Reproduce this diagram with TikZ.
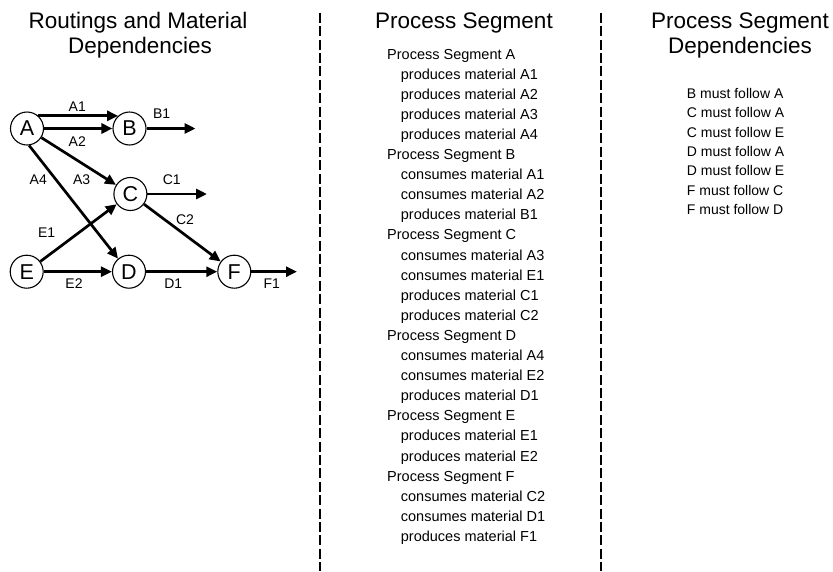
\documentclass[tikz,border=0pt]{standalone}
\usepackage{fontspec}
\setmainfont{Liberation Sans}
\usetikzlibrary{arrows.meta}
\begin{document}
\begin{tikzpicture}[x=1pt,y=-1pt,
  title/.style={font=\fontsize{22.5}{25}\selectfont, anchor=base, inner sep=0pt},
  item/.style={font=\fontsize{14.5}{17}\selectfont, anchor=base west, inner sep=0pt},
  dep/.style={font=\fontsize{14}{17}\selectfont, anchor=base west, inner sep=0pt},
  seg/.style={circle, draw, line width=1.1pt, minimum size=33pt, inner sep=0pt, font=\fontsize{21.5}{21.5}\selectfont},
  flow/.style={line width=2.7pt, -{Triangle[length=11pt,width=10pt]}},
  lbl/.style={font=\fontsize{14}{14}\selectfont, inner sep=0pt},
  divider/.style={line width=2.3pt, dash pattern=on 10pt off 3.4pt}]
\useasboundingbox (0,0) rectangle (833,571);

% dividers
\draw[divider] (320,12.7) -- (320,571);
\draw[divider] (601.3,12.7) -- (601.3,571);

% titles
\node[title] (t1a) at (138,28.3) {Routings and Material};
\node[title] (t1b) at (140,53.3) {Dependencies};
\node[title] (t2)  at (464,28.3) {Process Segment};
\node[title] (t3a) at (740,28.3) {Process Segment};
\node[title] (t3b) at (740,53.3) {Dependencies};

% graph
\node[seg] (A) at (27,128.5) {A};
\node[seg] (B) at (129.5,128.5) {B};
\node[seg] (C) at (130.4,194) {C};
\node[seg] (E) at (26.7,271.7) {E};
\node[seg] (D) at (129,271.7) {D};
\node[seg] (F) at (234.3,271.7) {F};
\coordinate (Bout) at (195.5,128.5);
\coordinate (Cout) at (207,194);
\coordinate (Fout) at (297,271.7);

\draw[flow] (A.48) -- (B.132);
\draw[flow] (A) -- (B);
\draw[flow] (A) -- (C);
\draw[flow] (A.-83) -- (D.130);
\draw[flow] (E) -- (C);
\draw[flow] (E) -- (D);
\draw[flow] (C) -- (F);
\draw[flow] (D) -- (F);
\draw[flow] (B) -- (Bout);
\draw[flow] (C) -- (Cout);
\draw[flow] (F) -- (Fout);

\node[lbl] (lA1) at (77.3,106.7) {A1};
\node[lbl] (lA2) at (77.3,141.7) {A2};
\node[lbl] (lB1) at (161.7,113.3) {B1};
\node[lbl] (lC1) at (171.7,179.3) {C1};
\node[lbl] (lC2) at (185,220) {C2};
\node[lbl] (lA4) at (38.3,180) {A4};
\node[lbl] (lA3) at (81.7,180) {A3};
\node[lbl] (lE1) at (46.7,232.3) {E1};
\node[lbl] (lE2) at (74,283.3) {E2};
\node[lbl] (lD1) at (173.3,283.3) {D1};
\node[lbl] (lF1) at (271.7,284) {F1};

% process segment list
\foreach \x/\t [count=\i from 0] in {
  387/Process Segment A,
  400.7/produces material A1,
  400.7/produces material A2,
  400.7/produces material A3,
  400.7/produces material A4,
  387/Process Segment B,
  400.7/consumes material A1,
  400.7/consumes material A2,
  400.7/produces material B1,
  387/Process Segment C,
  400.7/consumes material A3,
  400.7/consumes material E1,
  400.7/produces material C1,
  400.7/produces material C2,
  387/Process Segment D,
  400.7/consumes material A4,
  400.7/consumes material E2,
  400.7/produces material D1,
  387/Process Segment E,
  400.7/produces material E1,
  400.7/produces material E2,
  387/Process Segment F,
  400.7/consumes material C2,
  400.7/consumes material D1,
  400.7/produces material F1}
  \node[item] (ps\i) at (\x,{59+20.1*\i}) {\t};

% dependencies list
\foreach \t [count=\i from 0] in {
  B must follow A, C must follow A, C must follow E, D must follow A,
  D must follow E, F must follow C, F must follow D}
  \node[dep] (dep\i) at (686.7,{98.3+19.4*\i}) {\t};
\end{tikzpicture}
\end{document}
